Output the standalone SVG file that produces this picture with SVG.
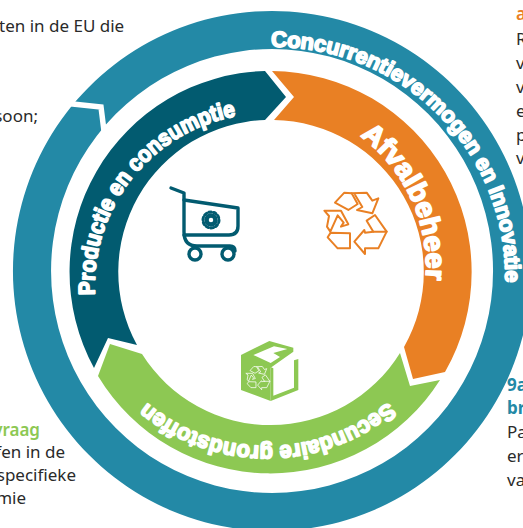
<svg xmlns="http://www.w3.org/2000/svg" xmlns:xlink="http://www.w3.org/1999/xlink" width="523" height="528" viewBox="0 0 523 528">
<style>
.body{font-family:"Noto Sans","Liberation Sans",sans-serif;font-size:17px;fill:#2a2a2a}
.e{text-anchor:end}
.arc{font-family:"Liberation Sans",Arial,sans-serif;font-weight:bold;fill:#fff;stroke:#fff;stroke-width:1.700px;stroke-linejoin:round;paint-order:stroke}
.rc{fill:none;stroke-linejoin:round;stroke-linecap:round}
</style>
<defs>
<path id="pOuter" d="M271 47 A230 230 0 0 1 505 290"/>
<path id="pProd" d="M95 295 A172 172 0 0 1 243 115"/>
<path id="pAfval" d="M360 136 A162 162 0 0 1 425 285"/>
<path id="pSec" d="M388 402 A188 188 0 0 1 146 402"/>
<g id="recycle">
<path d="M60 68L88 38L110 40L128 72L100 90Z"/>
<path d="M110 40L155 38L172 62L190 55L172 100L126 90L142 81L120 44"/>
<path d="M28 92L78 92L100 133L78 140L86 128L68 106L46 155L36 140L42 108Z"/>
<path d="M38 172L47 158L105 160L105 205L68 205Z"/>
<path d="M155 122L180 105L215 155L175 155Z"/>
<path d="M215 155L190 205L150 205L150 222L118 185L148 150L150 158L175 155"/>
</g>
</defs>
<rect width="523" height="528" fill="#fff"/>
<g id="texts">
<text class="body" x="-1" y="32">ten in de EU die</text>
<text class="body e" x="38" y="122">soon;</text>
<text class="body e" x="40" y="436" style="fill:#8dc853;font-weight:600">vraag</text>
<text class="body e" x="65" y="458">fen in de</text>
<text class="body e" x="76" y="481">specifieke</text>
<text class="body e" x="26" y="504">mie</text>
<text class="body" x="516" y="20" style="fill:#e98024;font-weight:600">a</text>
<text class="body" x="516" y="45">R</text>
<text class="body" x="516" y="69">v</text>
<text class="body" x="516" y="93">v</text>
<text class="body" x="516" y="117">e</text>
<text class="body" x="516" y="141">p</text>
<text class="body" x="516" y="164">v</text>
<text class="body" x="507" y="391" style="fill:#2389a6;font-weight:700">9a</text>
<text class="body" x="507" y="414" style="fill:#2389a6;font-weight:700">br</text>
<text class="body" x="507" y="438">Pa</text>
<text class="body" x="507" y="462">er</text>
<text class="body" x="507" y="486">va</text>
</g>
<g id="connectors">
<path id="ring-outer" d="M272 11A259 260 0 1 1 271.900 11ZM272 49A221 222 0 1 0 272.100 49Z" fill="#2389a6" fill-rule="evenodd"/>
<polyline points="68,103.500 101,107 104,131" fill="none" stroke="#fff" stroke-width="5.500"/>
</g>
<g id="node-concurrentie">
<text class="arc" font-size="22"><textPath xlink:href="#pOuter" href="#pOuter" textLength="371" lengthAdjust="spacing">Concurrentievermogen en Innovatie</textPath></text>
</g>
<g id="node-productie">
<path d="M94 368A201 201 0 0 1 265 71L286 97L265 120A152 152 0 0 0 137 345L108 338Z" fill="#025b70"/>
<text class="arc" font-size="23"><textPath xlink:href="#pProd" href="#pProd" textLength="249" lengthAdjust="spacingAndGlyphs">Productie en consumptie</textPath></text>
<g class="rc" stroke="#025b70" stroke-width="3.400">
<path d="M171 188L184 193L184 232Q184 246 197 246L230 246Q235 246 235 251"/>
<path d="M184 200L238 208L238 226Q238 235 229 235L184 235"/>
<circle cx="195" cy="254" r="6"/>
<circle cx="228" cy="254" r="6"/>
<circle cx="211" cy="220" r="4.500" stroke-width="4.500"/>
<circle cx="211" cy="220" r="8" stroke-width="3" stroke-dasharray="2.500 2.530"/>
</g>
</g>
<g id="node-afvalbeheer">
<path d="M272 71A201 201 0 0 1 445 372L413 379L404 347A152 152 0 0 0 274 120L294 97Z" fill="#e98024"/>
<text class="arc" font-size="28"><textPath xlink:href="#pAfval" href="#pAfval" textLength="165" lengthAdjust="spacingAndGlyphs">Afvalbeheer</textPath></text>
<use xlink:href="#recycle" href="#recycle" class="rc" stroke="#e98024" stroke-width="6" transform="translate(315 180) scale(.3333)"/>
</g>
<g id="node-secundaire">
<path d="M440 380A201 201 0 0 1 98 376L110 344L142 354A152 152 0 0 0 400 353L410 386Z" fill="#8dc853"/>
<text class="arc" font-size="23"><textPath xlink:href="#pSec" href="#pSec" textLength="262" lengthAdjust="spacingAndGlyphs">Secundaire grondstoffen</textPath></text>
<g transform="translate(230 335) scale(.3333)">
<path d="M33 60L118 18L190 38L190 50L122 98L122 198L33 165Z" fill="#8dc853"/>
<path d="M122 198L205 165L205 72L192 76L192 158L130 182L130 100L122 96Z" fill="#8dc853"/>
<path d="M70 60L132 34L172 42L130 54L150 66L122 84Z" fill="#fff"/>
<use xlink:href="#recycle" href="#recycle" class="rc" stroke="#fff" stroke-width="6" transform="translate(38 80) scale(.38)"/>
</g>
</g>
</svg>
